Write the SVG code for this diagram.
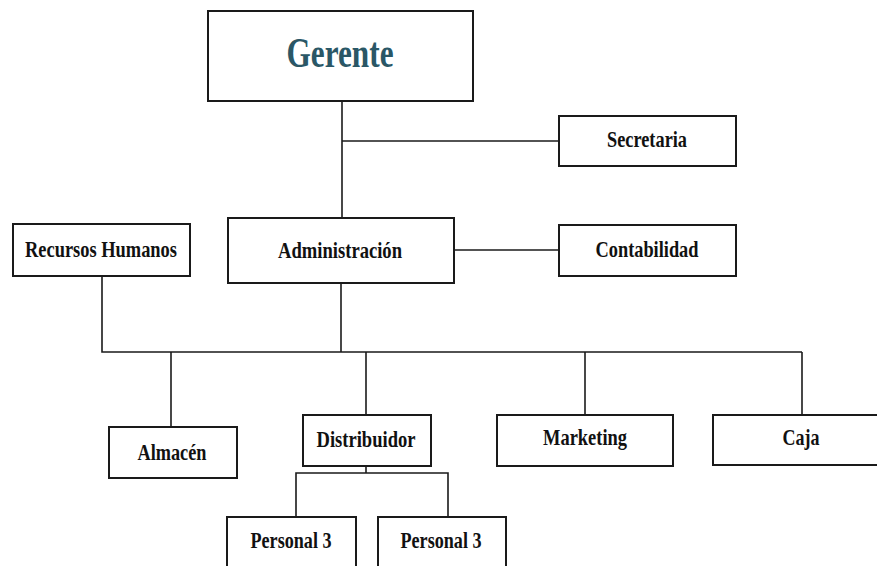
<svg xmlns="http://www.w3.org/2000/svg" width="877" height="566" viewBox="0 0 877 566">
  <style>
    .box { fill: #ffffff; stroke: #1a1a1a; stroke-width: 2; }
    .lbl { font-family: "Liberation Serif", "Times New Roman", serif; font-weight: bold; font-size: 23px; fill: #111111; text-anchor: middle; }
    .top { font-size: 43px; fill: #2a5766; }
    .wire { fill: none; stroke: #1a1a1a; stroke-width: 1.6; }
  </style>
  <rect width="877" height="566" fill="#ffffff"/>

  <!-- connectors -->
  <g id="connectors">
    <path class="wire" d="M342 101 V218"/>
    <path class="wire" d="M342 141 H559"/>
    <path class="wire" d="M454 250 H559"/>
    <path class="wire" d="M341 283 V352"/>
    <path class="wire" d="M102 276 V352 H802"/>
    <path class="wire" d="M171 352 V427"/>
    <path class="wire" d="M366 352 V415"/>
    <path class="wire" d="M585 352 V415"/>
    <path class="wire" d="M802 352 V415"/>
    <path class="wire" d="M366 466 V473"/>
    <path class="wire" d="M296 517 V473 H448 V517"/>
  </g>

  <g id="gerente">
    <rect class="box" x="208" y="11" width="265" height="90"/>
    <text class="lbl top" x="340" y="67" textLength="107" lengthAdjust="spacingAndGlyphs">Gerente</text>
  </g>
  <g id="secretaria">
    <rect class="box" x="559" y="116" width="177" height="50"/>
    <text class="lbl" x="647" y="147" textLength="80" lengthAdjust="spacingAndGlyphs">Secretaria</text>
  </g>
  <g id="recursos-humanos">
    <rect class="box" x="13" y="224" width="177" height="52"/>
    <text class="lbl" x="101" y="257" textLength="152" lengthAdjust="spacingAndGlyphs">Recursos Humanos</text>
  </g>
  <g id="administracion">
    <rect class="box" x="228" y="218" width="226" height="65"/>
    <text class="lbl" x="340" y="258" textLength="124" lengthAdjust="spacingAndGlyphs">Administración</text>
  </g>
  <g id="contabilidad">
    <rect class="box" x="559" y="225" width="177" height="51"/>
    <text class="lbl" x="647" y="257" textLength="103" lengthAdjust="spacingAndGlyphs">Contabilidad</text>
  </g>
  <g id="almacen">
    <rect class="box" x="109" y="427" width="128" height="51"/>
    <text class="lbl" x="172" y="460" textLength="69" lengthAdjust="spacingAndGlyphs">Almacén</text>
  </g>
  <g id="distribuidor">
    <rect class="box" x="303" y="415" width="128" height="51"/>
    <text class="lbl" x="366" y="447" textLength="99" lengthAdjust="spacingAndGlyphs">Distribuidor</text>
  </g>
  <g id="marketing">
    <rect class="box" x="497" y="415" width="176" height="51"/>
    <text class="lbl" x="585" y="445" textLength="84" lengthAdjust="spacingAndGlyphs">Marketing</text>
  </g>
  <g id="caja">
    <rect class="box" x="713" y="415" width="180" height="50"/>
    <text class="lbl" x="801" y="445" textLength="37" lengthAdjust="spacingAndGlyphs">Caja</text>
  </g>
  <g id="personal-3-a">
    <rect class="box" x="227" y="517" width="129" height="60"/>
    <text class="lbl" x="291" y="548" textLength="81" lengthAdjust="spacingAndGlyphs">Personal 3</text>
  </g>
  <g id="personal-3-b">
    <rect class="box" x="378" y="517" width="128" height="60"/>
    <text class="lbl" x="441" y="548" textLength="81" lengthAdjust="spacingAndGlyphs">Personal 3</text>
  </g>
</svg>
